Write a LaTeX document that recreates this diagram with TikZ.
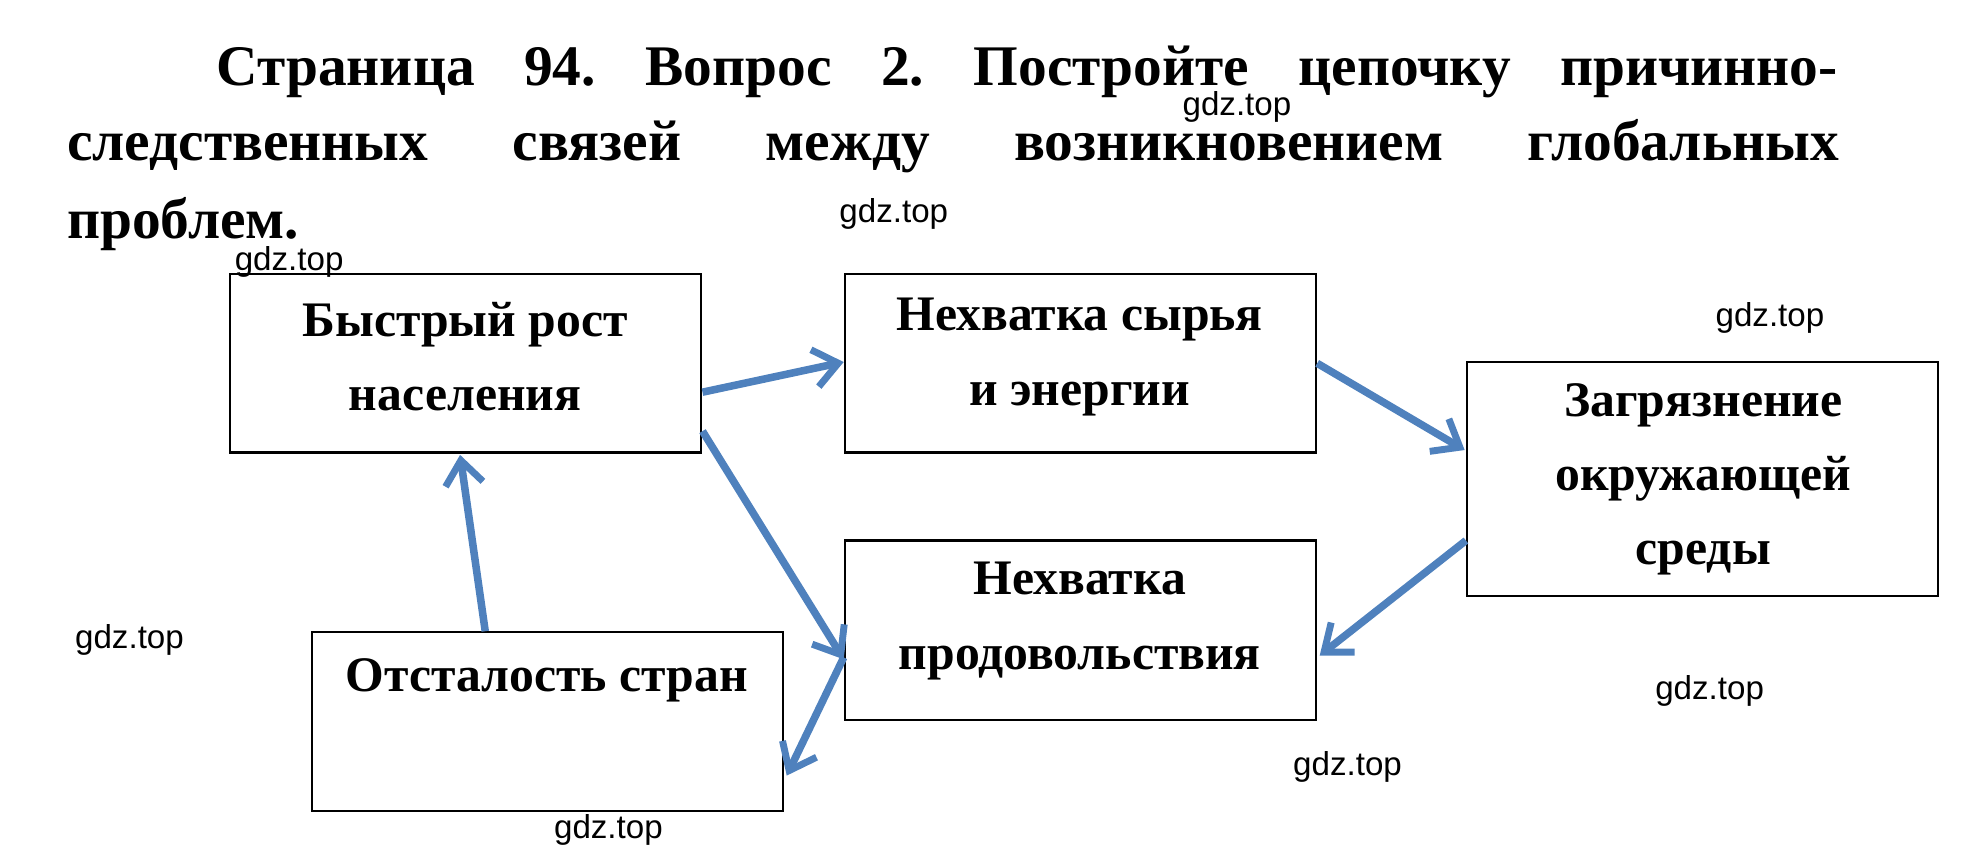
\documentclass[tikz,border=0pt]{standalone}
\usepackage{fontspec}
\setmainfont{Liberation Serif}
\newfontfamily\wm{Liberation Sans}
\usetikzlibrary{arrows.meta}
\definecolor{ab}{RGB}{79,129,189}
\frenchspacing
\begin{document}
\begin{tikzpicture}[x=0.02cm,y=-0.02cm,
 box/.style={draw,line width=1pt,minimum width=7.5cm,inner sep=0pt},
 bt/.style={font=\fontsize{22.5}{25}\bfseries\selectfont,align=center},
 ar/.style={draw=ab,line width=0.12cm,-{Straight Barb[length=0.38cm,width=0.6cm,line width=0.11cm]}},
 wmk/.style={font=\wm\fontsize{15}{17}\selectfont}]
\useasboundingbox (0,0) rectangle (1560,690);
\tikzset{tl/.style={anchor=base west,inner sep=0pt,font=\fontsize{26}{30}\bfseries\selectfont}}
\node[tl] (t1) at (172,68) {\makebox[25.8cm][s]{Страница 94. Вопрос 2. Постройте цепочку причинно-}};
\node[tl] (t2) at (53,128) {\makebox[28.2cm][s]{следственных связей между возникновением глобальных}};
\node[tl] (t3) at (53,190) {проблем.};
\node[box,minimum height=2.84cm] (A) at (370.5,289) {};
\node[box,minimum height=2.84cm] (B) at (859.5,289) {};
\node[box,minimum height=3.72cm] (C) at (1354.5,381) {};
\node[box,minimum height=2.86cm] (D) at (859.5,501.5) {};
\node[box,minimum height=2.84cm] (E) at (435.5,574) {};
\node[bt] (At) at (370,284) {Быстрый рост\\[0.3cm]населения};
\node[bt] (Bt) at (859,284) {Нехватка сырья\\[0.3cm]и энергии};
\node[bt] (Ct) at (1355,381) {Загрязнение\\[0.3cm]окружающей\\[0.3cm]среды};
\node[bt] (Dt) at (859,494) {Нехватка\\[0.3cm]продовольствия};
\node[bt] (Et) at (435,541) {Отсталость стран};
\draw[ar] ([yshift=-0.46cm]A.east) -- ([yshift=0.02cm]B.west);
\draw[ar] ([yshift=0cm]B.east) -- ([yshift=0.46cm,xshift=-0.02cm]C.west);
\draw[ar] ([yshift=-1.08cm]A.east) -- ([yshift=-0.46cm]D.west);
\draw[ar] ([yshift=-0.98cm]C.west) -- ([yshift=-0.4cm,xshift=0.04cm]D.east);
\draw[ar] ([yshift=-0.43cm]D.west) -- ([yshift=-0.86cm,xshift=0.04cm]E.east);
\draw[ar] ([xshift=-0.99cm]E.north) -- ([xshift=-0.09cm,yshift=-0.02cm]A.south);
\foreach \n/\x/\y in {w1/984/85,w2/711/170,w3/230/208,w4/1408/253,w5/103/509,w6/1360/550,w7/1072/610,w8/484/660}
 \node[wmk] (\n) at (\x,\y) {gdz.top};
\end{tikzpicture}
\end{document}
